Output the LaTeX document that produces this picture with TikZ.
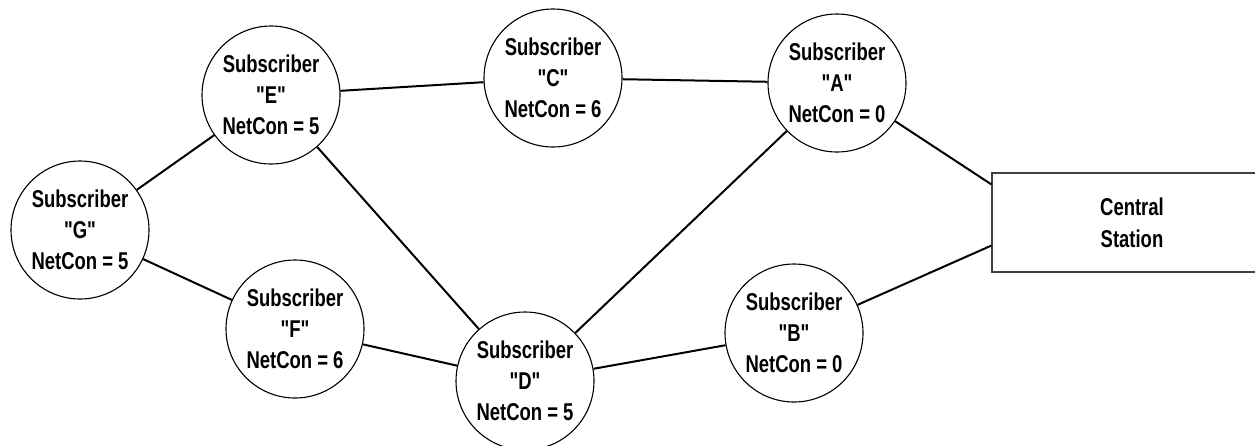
\documentclass[tikz,border=0pt]{standalone}
\usepackage{fontspec}
\newfontfamily\labfont{Liberation Sans}[FakeStretch=0.76]
\usetikzlibrary{calc}
\tikzset{
  sub/.style={circle, draw=black, line width=1.1pt, minimum size=138pt, inner sep=0pt,
    align=center, font=\labfont\bfseries\fontsize{24.3}{31}\selectfont},
  station/.style={rectangle, draw=black!75, line width=1.3pt, minimum width=280pt, minimum height=99pt,
    align=center, font=\labfont\bfseries\fontsize{24.3}{32}\selectfont},
  link/.style={draw=black, line width=2pt}
}
\begin{document}
\begin{tikzpicture}[x=1pt,y=-1pt]
\useasboundingbox (0,0) rectangle (1255,445);
\clip (0,0) rectangle (1255,445);
\node[sub] (E) at (271,95) {Subscriber\\"E"\\NetCon = 5};
\node[sub] (C) at (553,78) {Subscriber\\"C"\\NetCon = 6};
\node[sub] (A) at (837,83) {Subscriber\\"A"\\NetCon = 0};
\node[sub] (G) at (80,230) {Subscriber\\"G"\\NetCon = 5};
\node[sub] (F) at (295,329) {Subscriber\\"F"\\NetCon = 6};
\node[sub] (D) at (525,381) {Subscriber\\"D"\\NetCon = 5};
\node[sub] (B) at (794,333) {Subscriber\\"B"\\NetCon = 0};
\node[station] (S) at (1132,222.5) {Central\\Station};
\coordinate (SA) at ($(S.north west)!0.12!(S.south west)$);
\coordinate (SB) at ($(S.north west)!0.73!(S.south west)$);
\draw[link] (E) -- (C);
\draw[link] (C) -- (A);
\draw[link] (E) -- (G);
\draw[link] (G) -- (F);
\draw[link] (E) -- (D);
\draw[link] (F) -- (D);
\draw[link] (D) -- (A);
\draw[link] (D) -- (B);
\draw[link] (A) -- (SA);
\draw[link] (B) -- (SB);
\end{tikzpicture}
\end{document}
